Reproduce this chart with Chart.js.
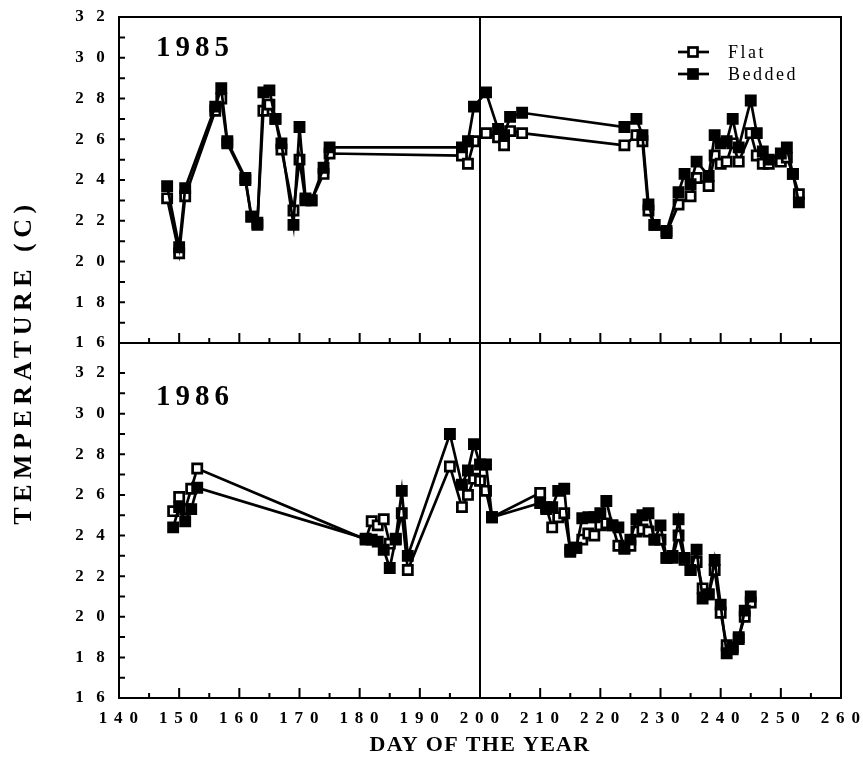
<!DOCTYPE html>
<html>
<head>
<meta charset="utf-8">
<script src="https://cdn.jsdelivr.net/npm/chart.js@4.4.1/dist/chart.umd.min.js"></script>
<style>
  html, body { margin: 0; padding: 0; background: #fff; }
  #wrap { position: relative; width: 863px; height: 767px; }
  #wrap canvas { position: absolute; left: 0; top: 0; }
</style>
</head>
<body>
<div id="wrap">
  <canvas id="chart85" width="863" height="767"></canvas>
  <canvas id="chart86" width="863" height="767"></canvas>
</div>
<script>
// Soil temperature, flat vs bedded plots, 1985 and 1986

// --- data ---
const flat85Days = [148, 150, 151, 156, 157, 158, 161, 162, 163, 164, 165, 166, 167, 169, 170, 171, 172, 174, 175,
  197, 198, 199, 201, 203, 204, 205, 207, 224, 226, 227, 228, 229, 231, 233, 235, 236, 238, 239, 240, 241,
  242, 243, 245, 246, 247, 248, 250, 251, 252, 253];
const flat85Temp = [23.1, 20.4, 23.2, 27.4, 28.0, 25.8, 24.0, 22.2, 21.9, 27.4, 27.7, 27.0, 25.5, 22.5, 25.0, 23.0, 23.0, 24.3, 25.3,
  25.2, 24.8, 25.9, 26.3, 26.1, 25.7, 26.4, 26.3, 25.7, 26.2, 25.9, 22.5, 21.8, 21.4, 22.8, 23.2, 24.1, 23.7, 25.2, 24.8, 24.9,
  25.8, 24.9, 26.3, 25.2, 24.8, 24.8, 24.9, 25.1, 24.3, 23.3];

const bed85Days = [148, 150, 151, 156, 157, 158, 161, 162, 163, 164, 165, 166, 167, 169, 170, 171, 172, 174, 175,
  197, 198, 199, 201, 203, 204, 205, 207, 224, 226, 227, 228, 229, 231, 233, 234, 235, 236, 238, 239, 240,
  241, 242, 243, 245, 246, 247, 248, 250, 251, 252, 253];
const bed85Temp = [23.7, 20.7, 23.6, 27.6, 28.5, 25.9, 24.1, 22.2, 21.8, 28.3, 28.4, 27.0, 25.8, 21.8, 26.6, 23.1, 23.0, 24.6, 25.6,
  25.6, 25.9, 27.6, 28.3, 26.5, 26.2, 27.1, 27.3, 26.6, 27.0, 26.2, 22.8, 21.8, 21.5, 23.4, 24.3, 23.8, 24.9, 24.2, 26.2, 25.8,
  25.9, 27.0, 25.6, 27.9, 26.3, 25.4, 25.0, 25.3, 25.6, 24.3, 22.9];

const days86 = [149, 150, 151, 152, 153, 181, 182, 183, 184, 185, 186, 187, 188,
  195, 197, 198, 199, 200, 201, 202, 210, 211, 212, 213, 214, 215, 216, 217, 218, 219,
  220, 221, 222, 223, 224, 225, 226, 227, 228, 229, 230, 231, 232, 233, 234, 235, 236, 237, 238, 239,
  240, 241, 242, 243, 244, 245];
const flat86Temp = [25.2, 25.9, 25.3, 26.3, 27.3, 23.8, 24.7, 24.5, 24.8, 23.6, 23.8, 25.1, 22.3,
  27.4, 25.4, 26.0, 26.8, 26.7, 26.2, 24.9, 26.1, 25.4, 24.4, 24.9, 25.1, 23.3, 23.4, 23.8, 24.1, 24.0,
  24.5, 24.6, 24.5, 23.5, 23.4, 23.5, 24.2, 24.3, 24.2, 23.8, 23.8, 22.9, 22.9, 24.0, 22.8, 22.3, 22.7, 21.4, 21.1, 22.3,
  20.2, 18.6, 18.4, 19.0, 20.0, 20.7];
const bed86Temp = [24.4, 25.4, 24.7, 25.3, 26.35, 23.85, 23.8, 23.7, 23.3, 22.4, 23.85, 26.2, 23.0,
  29.0, 26.5, 27.2, 28.5, 27.5, 27.5, 24.9, 25.6, 25.3, 25.4, 26.2, 26.3, 23.2, 23.4, 24.85, 24.9, 24.9,
  25.1, 25.7, 24.5, 24.4, 23.35, 23.8, 24.8, 25.0, 25.1, 23.8, 24.5, 22.9, 23.0, 24.8, 22.9, 22.3, 23.3, 20.9, 21.1, 22.8,
  20.6, 18.2, 18.5, 18.9, 20.3, 21.0];

// axis ticks
const xTickDays = [140, 150, 160, 170, 180, 190, 200, 210, 220, 230, 240, 250, 260];
const yTickValues = [16, 17, 18, 19, 20, 21, 22, 23, 24, 25, 26, 27, 28, 29, 30, 31, 32];
const dividerDay = 200;

const serif = "'Liberation Serif', 'Times New Roman', serif";
const tickFont = { family: serif, size: 17, weight: 'bold' };

// --- helpers ---
function pairs(days, temps) {
  return days.map((d, i) => ({ x: d, y: temps[i] }));
}

function series(label, days, temps, filled) {
  return {
    label,
    data: pairs(days, temps),
    borderColor: "#000",
    borderWidth: 2.7,
    tension: 0,
    pointStyle: "rect",
    pointRadius: 6.5,
    pointHoverRadius: 6.5,
    pointBorderColor: "#000",
    pointBorderWidth: 2.7,
    pointBackgroundColor: filled ? "#000" : "#fff",
    order: filled ? 0 : 1,
  };
}

function spaced(v, sep) {
  return String(v).split("").join(sep);
}

function drawSpacedText(ctx, text, x, y, font, spacing, align) {
  ctx.save();
  ctx.font = font;
  ctx.letterSpacing = spacing + "px";
  ctx.textAlign = align || "left";
  ctx.textBaseline = "alphabetic";
  ctx.fillStyle = "#000";
  ctx.fillText(text, x, y);
  ctx.restore();
}

function legendRow(ctx, y, filled, label) {
  ctx.save();
  ctx.strokeStyle = "#000";
  ctx.lineWidth = 2.7;
  ctx.beginPath();
  ctx.moveTo(678, y);
  ctx.lineTo(709, y);
  ctx.stroke();
  ctx.fillStyle = filled ? "#000" : "#fff";
  ctx.fillRect(688.5, y - 4.5, 9, 9);
  ctx.strokeRect(688.5, y - 4.5, 9, 9);
  ctx.restore();
  drawSpacedText(ctx, label, 728, y + 6, "18px " + serif, 2.5);
}

// frame, inward ticks, divider line and panel labels
const framePlugin = {
  id: "frame",
  beforeDraw(chart) {
    chart.ctx.letterSpacing = "1.3px";
  },
  afterDraw(chart, args, opts) {
    const { ctx, chartArea: a } = chart;
    const xs = chart.scales.x;
    const ys = chart.scales.y;
    ctx.save();
    ctx.letterSpacing = "0px";
    ctx.strokeStyle = "#000";
    ctx.lineWidth = 2;
    ctx.strokeRect(a.left, a.top, a.right - a.left, a.bottom - a.top);
    ctx.beginPath();
    const xd = xs.getPixelForValue(dividerDay);
    ctx.moveTo(xd, a.top);
    ctx.lineTo(xd, a.bottom);
    yTickValues.forEach((v) => {
      const py = ys.getPixelForValue(v);
      ctx.moveTo(a.left, py);
      ctx.lineTo(a.left + 6, py);
    });
    for (let d = xTickDays[0]; d <= xTickDays[xTickDays.length - 1]; d += 5) {
      const px = xs.getPixelForValue(d);
      const len = xTickDays.includes(d) ? 10 : 5;
      ctx.moveTo(px, a.bottom);
      ctx.lineTo(px, a.bottom - len);
    }
    ctx.stroke();
    ctx.restore();

    drawSpacedText(ctx, opts.year, 156, opts.yearBaseline, "bold 29px " + serif, 5);

    if (opts.legend) {
      legendRow(ctx, 52, false, "Flat");
      legendRow(ctx, 74, true, "Bedded");
    }
    if (opts.yTitle) {
      ctx.save();
      ctx.translate(31, 362);
      ctx.rotate(-Math.PI / 2);
      drawSpacedText(ctx, "TEMPERATURE (C)", 0, 0, "bold 26px " + serif, 5.5, "center");
      ctx.restore();
    }
  },
};

function yScale(max) {
  return {
    min: 16,
    max: max,
    afterBuildTicks: (s) => {
      s.ticks = yTickValues.map((v) => ({ value: v }));
    },
    afterFit: (s) => {
      s.width = 119;
    },
    grid: { display: false },
    border: { display: false },
    ticks: {
      autoSkip: false,
      color: "#000",
      font: tickFont,
      padding: 5,
      callback: (v) => (v % 2 === 0 ? spaced(v, "  ") : ""),
    },
  };
}

// --- 1985 panel (top) ---
new Chart(document.getElementById("chart85"), {
  type: "line",
  data: {
    datasets: [
      series("Flat", flat85Days, flat85Temp, false),
      series("Bedded", bed85Days, bed85Temp, true),
    ],
  },
  options: {
    responsive: false,
    animation: false,
    layout: { padding: { left: 0, right: 22, top: 17, bottom: 424 } },
    scales: {
      x: { type: "linear", min: 140, max: 260, display: false },
      y: yScale(32),
    },
    plugins: {
      legend: { display: false },
      tooltip: { enabled: false },
      frame: { year: "1985", yearBaseline: 56, legend: true, yTitle: true },
    },
  },
  plugins: [framePlugin],
});

// --- 1986 panel (bottom, carries the day axis) ---
new Chart(document.getElementById("chart86"), {
  type: "line",
  data: {
    datasets: [
      series("Flat", days86, flat86Temp, false),
      series("Bedded", days86, bed86Temp, true),
    ],
  },
  options: {
    responsive: false,
    animation: false,
    layout: { padding: { left: 0, right: 22, top: 343, bottom: 0 } },
    scales: {
      x: {
        type: "linear",
        min: 140,
        max: 260,
        afterBuildTicks: (s) => {
          s.ticks = xTickDays.map((v) => ({ value: v }));
        },
        afterFit: (s) => {
          s.height = 69;
        },
        grid: { display: false },
        border: { display: false },
        ticks: {
          autoSkip: false,
          maxRotation: 0,
          color: "#000",
          font: tickFont,
          padding: 2,
          callback: (v) => spaced(v, " "),
        },
        title: {
          display: true,
          text: "DAY OF THE YEAR",
          color: "#000",
          font: { family: serif, size: 22, weight: "bold" },
          padding: { top: 0, bottom: 8 },
        },
      },
      y: yScale(33.48),
    },
    plugins: {
      legend: { display: false },
      tooltip: { enabled: false },
      frame: { year: "1986", yearBaseline: 405, legend: false, yTitle: false },
    },
  },
  plugins: [framePlugin],
});
</script>
</body>
</html>
